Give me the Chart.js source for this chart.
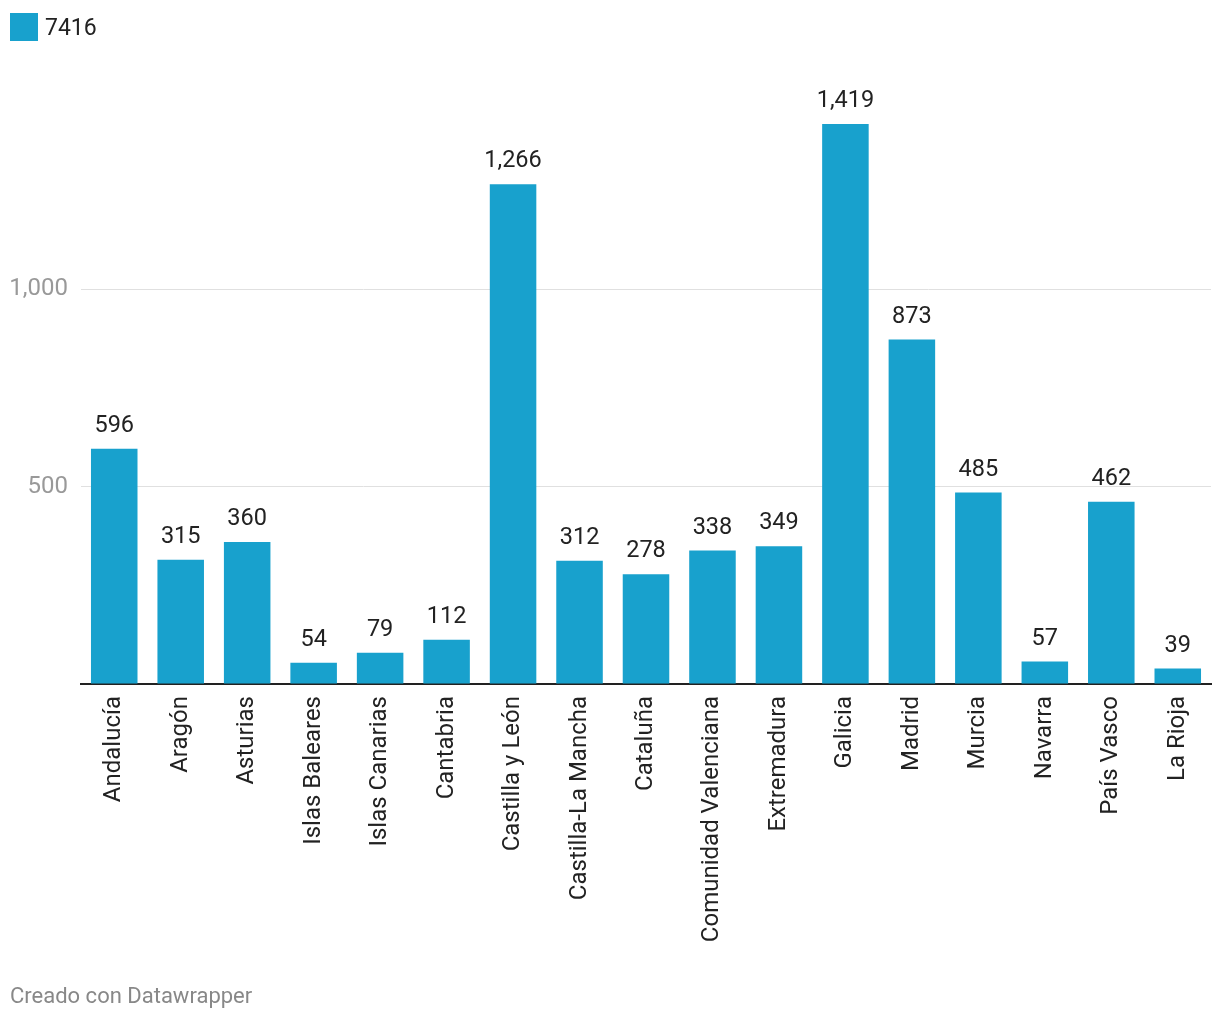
<!DOCTYPE html>
<html>
<head>
<meta charset="utf-8">
<script src="https://cdn.jsdelivr.net/npm/chart.js@4/dist/chart.umd.min.js"></script>
<style>
  html,body{margin:0;padding:0;background:#fff;}
  body{width:1220px;height:1020px;position:relative;overflow:hidden;font-family:Roboto,sans-serif;}
  #wrap{position:absolute;left:0;top:0;width:1220px;height:1020px;}
  #legend{position:absolute;left:10px;top:13px;display:flex;align-items:center;font-size:23px;color:#222;}
  #legend .sw{width:28px;height:28px;background:#18a1cd;margin-right:7px;}
  #footer{position:absolute;left:10px;top:983px;font-size:22px;color:#888;}
</style>
</head>
<body>
<div id="wrap"><canvas id="c" width="1220" height="1020"></canvas></div>
<div id="legend"><div class="sw"></div><span>7416</span></div>
<div id="footer">Creado con Datawrapper</div>
<script>
const categories = ["Andalucía","Aragón","Asturias","Islas Baleares","Islas Canarias","Cantabria","Castilla y León","Castilla-La Mancha","Cataluña","Comunidad Valenciana","Extremadura","Galicia","Madrid","Murcia","Navarra","País Vasco","La Rioja"];
const seriesName = "7416";
const values = [596,315,360,54,79,112,1266,312,278,338,349,1419,873,485,57,462,39];
const yTicksShown = [500,1000];

const fmt = v => v.toLocaleString('en-US');

const valueLabels = {
  id:'valueLabels',
  afterDatasetsDraw(chart){
    const ctx = chart.ctx;
    const meta = chart.getDatasetMeta(0);
    ctx.save();
    ctx.font = '23.5px Roboto';
    ctx.fillStyle = '#222';
    ctx.textAlign = 'center';
    ctx.textBaseline = 'bottom';
    meta.data.forEach((bar,i)=>{
      ctx.fillText(fmt(values[i]), bar.x, bar.y - 11);
    });
    ctx.restore();
  }
};

new Chart(document.getElementById('c'), {
  type:'bar',
  data:{
    labels: categories,
    datasets:[{label: seriesName, data: values, backgroundColor:'#18a1cd', borderWidth:0, barPercentage:0.7, categoryPercentage:1}]
  },
  options:{
    responsive:false,
    animation:false,
    layout:{padding:{left:0,right:9,top:92,bottom:0}},
    plugins:{legend:{display:false}, tooltip:{enabled:false}},
    scales:{
      x:{
        grid:{display:false, drawTicks:false},
        border:{display:true, color:'#222', width:2},
        ticks:{minRotation:90, maxRotation:90, autoSkip:false, padding:12, color:'#222', font:{family:'Roboto', size:24}},
        afterFit(s){ s.height = 1020 - 684; }
      },
      y:{
        min:0, max:1500,
        grid:{color:ctx => yTicksShown.includes(ctx.tick && ctx.tick.value) ? '#e0e0e0' : 'rgba(0,0,0,0)', lineWidth:1, drawTicks:false},
        border:{display:false},
        ticks:{stepSize:500, padding:13, color:'#999', font:{family:'Roboto', size:24},
          callback:v => yTicksShown.includes(v) ? fmt(v) : ''},
        afterFit(s){ s.width = 81; }
      }
    }
  },
  plugins:[valueLabels]
});
</script>
</body>
</html>
